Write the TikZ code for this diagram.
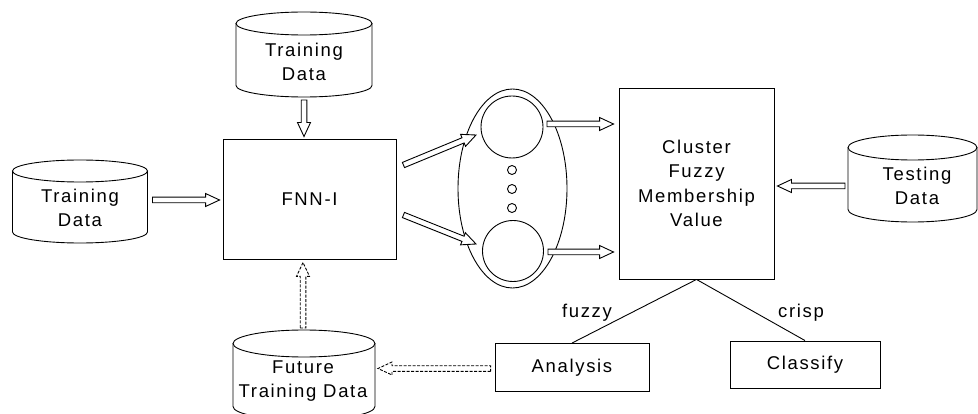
\documentclass[tikz,border=0pt]{standalone}
\usepackage{fontspec}
\setmainfont[LetterSpace=9]{Liberation Sans}
\usetikzlibrary{calc,shapes.geometric}
\newcommand\dbcyl[6]{% name, cx, top, bottom, half width, ry
  \draw[thinline] (#2,#3+#6) ellipse[x radius=#5, y radius=#6];
  \draw[thinline] (#2-#5,#3+#6) -- (#2-#5,#4-#6) arc[start angle=180,end angle=0,x radius=#5,y radius=#6] -- (#2+#5,#3+#6);
  \coordinate (#1-n) at (#2,#3);
  \coordinate (#1-s) at (#2,#4);
  \coordinate (#1-e) at (#2+#5,{(#3+#4)/2});
  \coordinate (#1-w) at (#2-#5,{(#3+#4)/2});
}
\newcommand\harrow[3][]{%
  \path (#2) coordinate (hA) (#3) coordinate (hB);
  \path ($(hB)!14pt!(hA)$) coordinate (hH);
  \draw[thinline, fill=white, line join=miter, #1]
    ($(hA)!2.8pt!90:(hB)$) -- ($(hH)!2.8pt!-90:(hA)$) -- ($(hH)!6.5pt!-90:(hA)$) -- (hB)
    -- ($(hH)!6.5pt!90:(hA)$) -- ($(hH)!2.8pt!90:(hA)$) -- ($(hA)!2.8pt!-90:(hB)$) -- cycle;}
\begin{document}
\begin{tikzpicture}[x=1pt,y=-1pt,
  thinline/.style={line width=0.9pt, draw=black},
  lbl/.style={font=\fontsize{18.5}{24.5}\selectfont, align=center, inner sep=0pt},
  box/.style={thinline, rectangle, inner sep=0pt, font=\fontsize{18.5}{24.5}\selectfont, align=center}]
\useasboundingbox (0,0) rectangle (978,414);

% cylinders
\dbcyl{td}{304}{12}{97}{68}{11.5}
\node[lbl] (tdtxt) at (304,62) {Training\\Data};
\dbcyl{tl}{80}{160}{243}{67.5}{11}
\node[lbl] (tltxt) at (80,208) {Training\\Data};
\dbcyl{ts}{912.5}{135}{222}{64.5}{12.5}
\node[lbl] (tstxt) at (917,186) {Testing\\Data};
\dbcyl{fd}{304}{330}{420}{71}{13.5}
\node[lbl] (fdtxt) at (303,381) {Future\\Training Data};

% boxes
\node[box, minimum width=173, minimum height=120] (fnn) at (309.5,199) {FNN-I};
\node[box, minimum width=155, minimum height=191] (clus) at (696.5,183.5) {Cluster\\Fuzzy\\Membership\\Value};
\node[box, minimum width=154, minimum height=48] (ana) at (572,367.5) {Analysis};
\node[box, minimum width=150, minimum height=47] (cls) at (805,364.5) {Classify};

% ellipse with clusters
\node[thinline, ellipse, minimum width=109, minimum height=199, inner sep=0pt] (ell) at (512.5,188.5) {};
\node[thinline, circle, minimum size=62, inner sep=0pt] (c1) at (512,127) {};
\node[thinline, circle, minimum size=61, inner sep=0pt] (c2) at (513,251) {};
\node[thinline, circle, minimum size=9, inner sep=0pt] (d1) at (512,170) {};
\node[thinline, circle, minimum size=9, inner sep=0pt] (d2) at (512,189) {};
\node[thinline, circle, minimum size=9, inner sep=0pt] (d3) at (512,208) {};

% hollow arrows
\harrow{$(td-s)+(0,3)$}{$(td-s |- fnn.north)+(0,-2)$}
\harrow{$(tl-e)+(5,-1.5)$}{$(tl-e -| fnn.west)+(-3,-1.5)$}
\harrow{$(fnn.east)+(7,-34)$}{$(c1)+(-36,8)$}
\harrow{$(fnn.east)+(7,16)$}{$(c2)+(-37,-7)$}
\harrow{$(c1)+(35,-3)$}{$(c1 -| clus.west)+(-5,-3)$}
\harrow{$(c2)+(35,1)$}{$(c2 -| clus.west)+(-5,1)$}
\harrow{$(ts-w)+(-3,7.5)$}{$(ts-w -| clus.east)+(3,7.5)$}

% dashed hollow arrows
\harrow[dash pattern=on 3pt off 1.5pt]{$(fd-n)+(-1,-2)$}{$(fd-n |- fnn.south)+(-1,3)$}
\harrow[dash pattern=on 3pt off 1.5pt]{$(ana.west)+(-4,1)$}{$(ana.west -| fd-e)+(3,1)$}

% branches
\draw[thinline] (clus.south) -- (ana.north);
\draw[thinline] (clus.south) -- (cls.north);
\node[lbl] (fz) at (587,313) {fuzzy};
\node[lbl] (cr) at (801,313) {crisp};
\end{tikzpicture}
\end{document}
